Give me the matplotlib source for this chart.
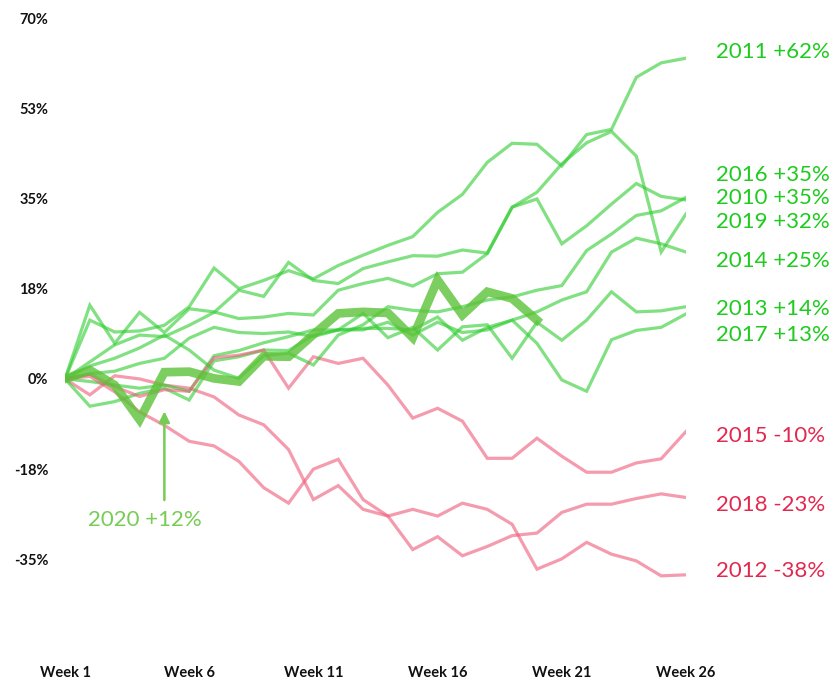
import matplotlib
matplotlib.use("Agg")
import matplotlib.pyplot as plt
import numpy as np

plt.rcParams['font.family'] = ['Lato', 'DejaVu Sans']

weeks = np.arange(1, 27)

# cumulative change from week 1, in %
y2010 = [0, 14.3, 6.9, 12.9, 9.0, 13.6, 13.0, 11.7, 12.0, 12.7, 12.4, 17.2, 18.5, 19.5, 18.0, 20.4, 20.7, 24.3, 33.3, 34.9, 26.2, 29.7, 33.9, 37.9, 35.4, 34.7]
y2011 = [0, 11.4, 9.1, 9.3, 10.4, 14.0, 21.5, 17.5, 19.1, 21.0, 19.4, 22.0, 24.0, 25.9, 27.6, 32.3, 35.8, 42.0, 45.7, 45.5, 41.3, 47.4, 48.4, 58.5, 61.3, 62.2]
y2012 = [0, -3.1, 0.6, 0.0, -1.2, -1.8, -3.5, -7.0, -8.9, -13.7, -23.4, -20.7, -25.3, -26.6, -25.3, -26.6, -24.1, -25.3, -28.2, -36.9, -34.9, -31.7, -34.0, -35.3, -38.2, -38.0]
y2013 = [0, -5.3, -4.4, -2.8, -1.8, -4.1, 3.5, 4.3, 5.6, 5.5, 8.5, 9.5, 12.7, 8.0, 10.0, 5.6, 10.1, 10.5, 4.0, 11.0, 7.5, 11.4, 16.9, 13.0, 13.2, 14.0]
y2014 = [0, -0.5, -1.2, -1.8, -1.2, -2.4, 4.5, 5.5, 7.0, 8.2, 9.5, 9.5, 9.8, 9.8, 9.5, 12.0, 7.5, 10.0, 11.4, 13.0, 15.3, 16.9, 24.6, 27.3, 26.2, 24.6]
y2015 = [0, 0.9, -1.5, -3.4, -2.1, -2.4, 4.1, 4.6, 5.6, -1.8, 4.3, 3.0, 4.0, -1.2, -7.6, -5.7, -8.2, -15.4, -15.4, -11.5, -15.0, -18.1, -18.1, -16.3, -15.5, -10.2]
y2016 = [0, 2.5, 4.0, 6.0, 8.5, 5.6, 1.7, 0.1, 4.5, 5.0, 2.7, 8.5, 10.5, 14.0, 13.3, 13.0, 14.0, 15.3, 15.9, 17.2, 18.1, 24.9, 28.1, 31.7, 32.6, 35.2]
y2017 = [0, 1.0, 1.5, 3.0, 4.0, 7.9, 10.0, 9.0, 8.8, 9.1, 8.2, 9.5, 9.5, 11.0, 8.5, 11.0, 9.0, 9.5, 11.4, 6.9, -0.2, -2.4, 7.6, 9.4, 10.0, 12.6]
y2018 = [0, 0.5, -2.5, -6.4, -9.0, -12.1, -13.0, -16.0, -21.1, -24.1, -17.5, -15.6, -23.4, -26.6, -33.1, -30.6, -34.3, -32.5, -30.4, -29.9, -25.9, -24.3, -24.3, -23.2, -22.3, -23.0]
y2019 = [0, 3.3, 6.6, 8.5, 8.2, 10.4, 12.9, 17.2, 16.0, 22.6, 19.1, 18.5, 21.4, 22.7, 23.9, 23.8, 25.0, 24.4, 33.3, 36.2, 41.7, 45.8, 48.0, 43.2, 24.6, 32.0]
y2020 = [0, 1.7, -1.2, -7.9, 1.3, 1.4, 0.1, -0.5, 4.4, 4.3, 8.6, 12.7, 13.0, 12.8, 8.0, 19.2, 12.4, 16.9, 15.6, 11.4]

years = ['2010', '2011', '2012', '2013', '2014', '2015', '2016', '2017', '2018', '2019']
series = [y2010, y2011, y2012, y2013, y2014, y2015, y2016, y2017, y2018, y2019]
# where the end labels sit (in %), spread so they do not overlap
label_pos = {'2011': 63.5, '2016': 39.5, '2010': 35.0, '2019': 30.5, '2014': 22.8,
             '2013': 13.5, '2017': 8.5, '2015': -11.0, '2018': -24.5, '2012': -37.3}

green = '#2ecc2e'
red = '#ee5a78'

fig = plt.figure(figsize=(8.4, 6.9), dpi=100)
ax = fig.add_axes([65/840, 43/690, 621/840, 629/690])

for yr, vals in zip(years, series):
    final = vals[-1]
    col = green if final >= 0 else red
    ax.plot(weeks[:len(vals)], vals, color=col, alpha=0.6, lw=2.3, solid_joinstyle='miter')
    txtcol = '#1ecb1e' if final >= 0 else '#e3284f'
    sign = '+' if final >= 0 else '-'
    ax.text(27.2, label_pos[yr], '%s %s%d%%' % (yr, sign, abs(round(final))),
            color=txtcol, fontsize=16, va='center', ha='left', clip_on=False)

ax.plot(weeks[:len(y2020)], y2020, color='#5cc238', alpha=0.8, lw=6.3, solid_joinstyle='miter')
# 2020 callout
ax.annotate('', xy=(5, -6.3), xytext=(5, -23.5),
            arrowprops=dict(arrowstyle='-|>', color='#77cc55', lw=1.8, mutation_scale=16,
                            shrinkA=0, shrinkB=0))
ax.text(4.2, -27.3, '2020 +12%', color='#77cc55', fontsize=16, ha='center', va='center')

ax.set_xlim(1, 26)
ax.set_ylim(-52, 70)
ax.set_yticks([70, 52.5, 35, 17.5, 0, -17.5, -35])
ax.set_yticklabels(['70%', '53%', '35%', '18%', '0%', '-18%', '-35%'])
ax.set_xticks([1, 6, 11, 16, 21, 26])
ax.set_xticklabels(['Week 1', 'Week 6', 'Week 11', 'Week 16', 'Week 21', 'Week 26'])
ax.tick_params(length=0, labelsize=10.5, colors='#111111')
ax.tick_params(axis='y', pad=12)
ax.tick_params(axis='x', pad=14)
for lab in ax.get_xticklabels() + ax.get_yticklabels():
    lab.set_fontweight('bold')
for s in ax.spines.values():
    s.set_visible(False)

fig.savefig('out.png', dpi=100)
